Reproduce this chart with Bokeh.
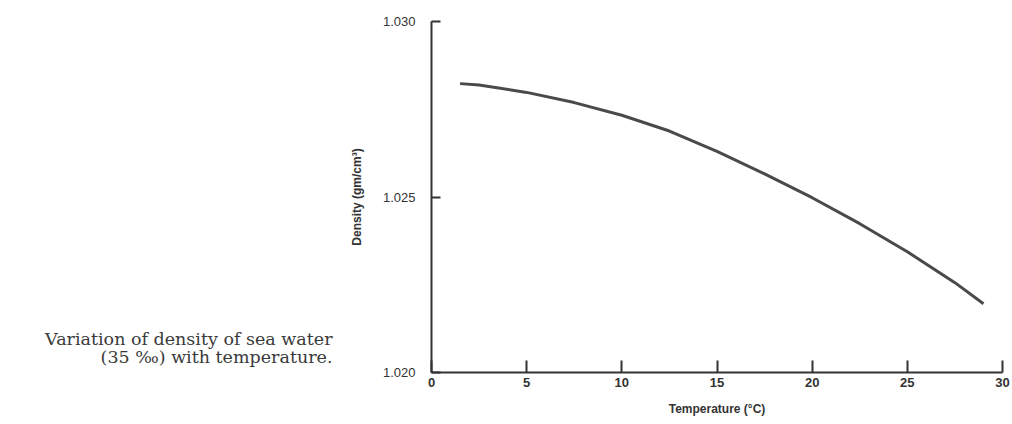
from bokeh.plotting import figure
from bokeh.models import Range1d, FixedTicker
from bokeh.layouts import row
from bokeh.core.properties import value
from bokeh.embed import file_html
from bokeh.resources import INLINE

# Data (temperature in °C, density in gm/cm3)
temperature = [1.5, 2.5, 5, 7.5, 10, 12.5, 15, 17.5, 20, 22.5, 25, 27.5, 29]
density = [1.02823, 1.02819, 1.02798, 1.02769, 1.02733, 1.02688, 1.02630,
           1.02566, 1.02498, 1.02424, 1.02344, 1.02256, 1.02196]
x_ticks = [0, 5, 10, 15, 20, 25, 30]
y_ticks = [1.020, 1.025, 1.030]
y_tick_labels = {1.020: "1.020", 1.025: "1.025", 1.030: "1.030"}
caption_lines = ["Variation of density of sea water", "(35 \u2030) with temperature."]

LEFT_W = 345
TOP, BOTTOM = 21, 52

# caption panel; its frame is aligned with the main plot's frame by the row,
# so use a range that maps directly to page pixels
cap = figure(width=LEFT_W, height=424, output_backend="svg", toolbar_location=None,
             x_range=Range1d(0, LEFT_W), y_range=Range1d(424 - BOTTOM, TOP),
             x_axis_type=None, y_axis_type=None, min_border=0,
             min_border_top=TOP, min_border_bottom=BOTTOM)
cap.grid.visible = False
cap.outline_line_color = None
cap.text(x=[332, 332], y=[338, 356], text=caption_lines, text_align="right",
         text_baseline="middle", text_font=value("DejaVu Serif"),
         text_font_size="17.5px", text_color="#3a3a3a")

p = figure(width=1012 - LEFT_W, height=424, output_backend="svg", toolbar_location=None,
           x_range=Range1d(0, 30), y_range=Range1d(1.020, 1.030),
           min_border_left=431 - LEFT_W, min_border_right=10, min_border_top=TOP,
           min_border_bottom=BOTTOM)
p.outline_line_color = None
p.xgrid.visible = False
p.ygrid.visible = False

p.line(temperature, density, line_color="#4a4a4a", line_width=3)

ax_col = "#333333"
xa = p.xaxis[0]
xa.ticker = FixedTicker(ticks=x_ticks)
xa.minor_tick_line_color = None
xa.major_tick_in = 12
xa.major_tick_out = 0
xa.major_tick_line_width = 2
xa.major_tick_line_color = ax_col
xa.axis_line_width = 2
xa.axis_line_color = ax_col
xa.major_label_text_font = "Liberation Sans"
xa.major_label_text_font_style = "bold"
xa.major_label_text_font_size = "13px"
xa.major_label_text_color = ax_col
xa.major_label_standoff = 5
xa.axis_label = "Temperature (\u00b0C)"
xa.axis_label_text_font = "Liberation Sans"
xa.axis_label_text_font_style = "bold"
xa.axis_label_text_font_size = "12px"
xa.axis_label_text_color = ax_col
xa.axis_label_standoff = 12

ya = p.yaxis[0]
ya.ticker = FixedTicker(ticks=y_ticks)
ya.major_label_overrides = y_tick_labels
ya.minor_tick_line_color = None
ya.major_tick_in = 9
ya.major_tick_out = 0
ya.major_tick_line_width = 2
ya.major_tick_line_color = ax_col
ya.axis_line_width = 2
ya.axis_line_color = ax_col
ya.major_label_text_font = "Liberation Sans"
ya.major_label_text_font_size = "13px"
ya.major_label_text_color = ax_col
ya.major_label_standoff = 16
ya.axis_label = "Density (gm/cm\u00b3)"
ya.axis_label_text_font = "Liberation Sans"
ya.axis_label_text_font_style = "bold"
ya.axis_label_text_font_size = "12px"
ya.axis_label_text_color = ax_col
ya.axis_label_standoff = 16

layout = row(cap, p, spacing=0)
open("out.html", "w").write(file_html(layout, INLINE))
